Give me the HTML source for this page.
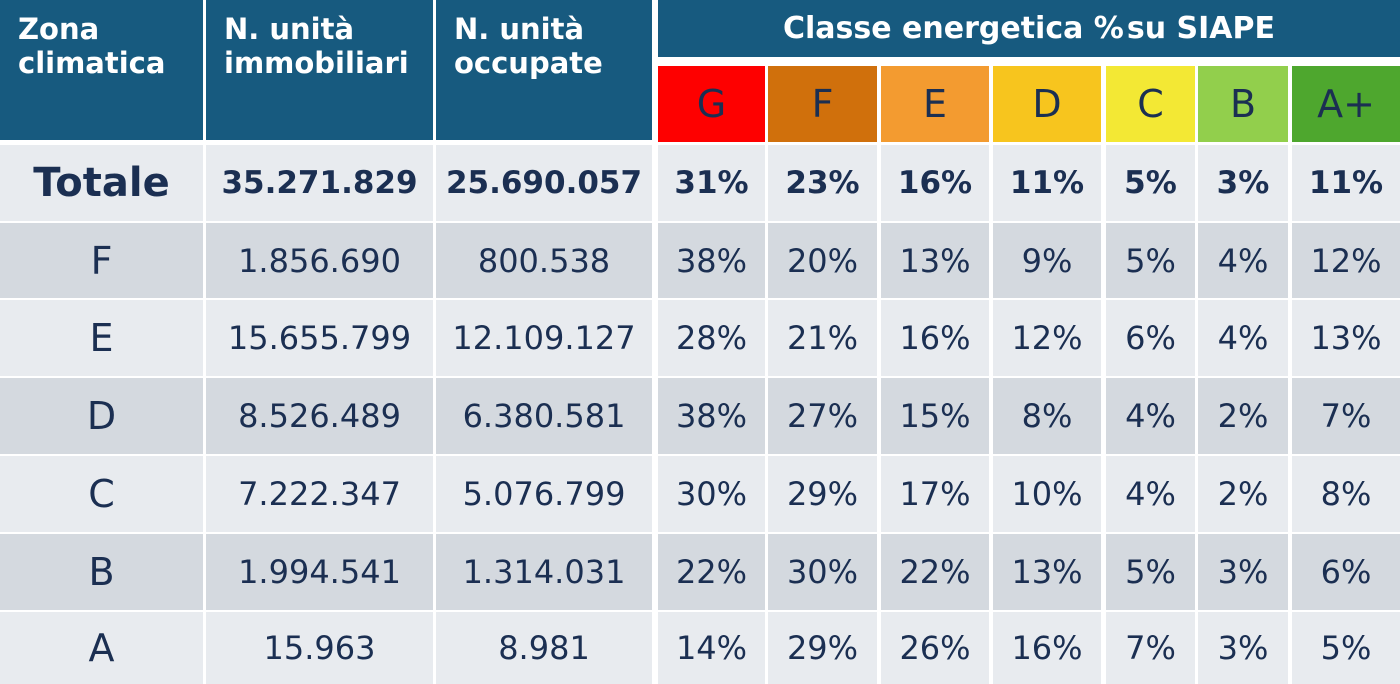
<!DOCTYPE html>
<html><head><meta charset="utf-8"><style>
body{margin:0;width:1400px;height:684px;background:#fff;overflow:hidden;font-family:"DejaVu Sans","Liberation Sans",sans-serif;position:relative}
.c{position:absolute;display:flex;align-items:center;justify-content:center;box-sizing:border-box;color:#1b2f52}
.h{background:#175a7f;color:#fff;font-weight:bold;font-size:29px;justify-content:flex-start;align-items:flex-start;padding:12px 0 0 18px;line-height:34px}
.cls{font-size:38px}
.d{font-size:32px}
.b{font-weight:bold}
</style></head><body>
<div id="t"></div>
<script>
const cols=[[0,203],[206,433],[436,652],[658,765],[768,877],[881,989],[993,1101],[1106,1195],[1198,1288],[1292,1400]];
const rowsY=[[145,221],[223,298],[300,376],[378,454],[456,532],[534,610],[612,684]];
const zones=["Totale","F","E","D","C","B","A"];
const units=["35.271.829","1.856.690","15.655.799","8.526.489","7.222.347","1.994.541","15.963"];
const occupied=["25.690.057","800.538","12.109.127","6.380.581","5.076.799","1.314.031","8.981"];
const classes=["G","F","E","D","C","B","A+"];
const classColors=["#fe0000","#d0700c","#f39b30","#f7c51e","#f3e834","#92cf4c","#4ea72e"];
const pct=[[31,23,16,11,5,3,11],[38,20,13,9,5,4,12],[28,21,16,12,6,4,13],[38,27,15,8,4,2,7],[30,29,17,10,4,2,8],[22,30,22,13,5,3,6],[14,29,26,16,7,3,5]];
const tbl=document.getElementById('t');
function cell(x0,x1,y0,y1,txt,cls,bg,name){const e=document.createElement('div');e.className='c '+cls;e.style.left=x0+'px';e.style.top=y0+'px';e.style.width=(x1-x0)+'px';e.style.height=(y1-y0)+'px';if(bg)e.style.background=bg;e.innerHTML=txt;


tbl.appendChild(e);return e;}
cell(0,203,0,140,"Zona<br>climatica","h",null,"header-zona-climatica");
cell(206,433,0,140,"N. unità<br>immobiliari","h",null,"header-unita-immobiliari");
cell(436,652,0,140,"N. unità<br>occupate","h",null,"header-unita-occupate");
const topCell=cell(658,1400,0,57,"Classe energetica %&#8202;su SIAPE","h",null,"header-classe-energetica");
topCell.style.justifyContent='center';topCell.style.padding='0';topCell.style.alignItems='center';topCell.style.fontSize='30px';
classes.forEach((c,i)=>cell(cols[i+3][0],cols[i+3][1],66,142,c,"cls",classColors[i],"class-"+c.toLowerCase().replace('+','plus')));
zones.forEach((z,r)=>{
 const y0=rowsY[r][0],y1=rowsY[r][1];const bg=(r%2===1)?"#d4d9df":"#e8ebef";const bold=r===0?" b":"";
 const zc=cell(0,203,y0,y1,z,"d"+bold,bg,"zone-"+z.toLowerCase());
 zc.style.fontSize=r===0?'40px':'38px';
 const fs=r===0?'31px':'32px';
 cell(206,433,y0,y1,units[r],"d"+bold,bg,"units-"+z.toLowerCase()).style.fontSize=fs;
 cell(436,652,y0,y1,occupied[r],"d"+bold,bg,"occupied-"+z.toLowerCase()).style.fontSize=fs;
 pct[r].forEach((v,i)=>{cell(cols[i+3][0],cols[i+3][1],y0,y1,v+"%","d"+bold,bg,"pct-"+z.toLowerCase()+"-"+classes[i].toLowerCase().replace('+','plus')).style.fontSize=fs;});
});
</script>
</body></html>
